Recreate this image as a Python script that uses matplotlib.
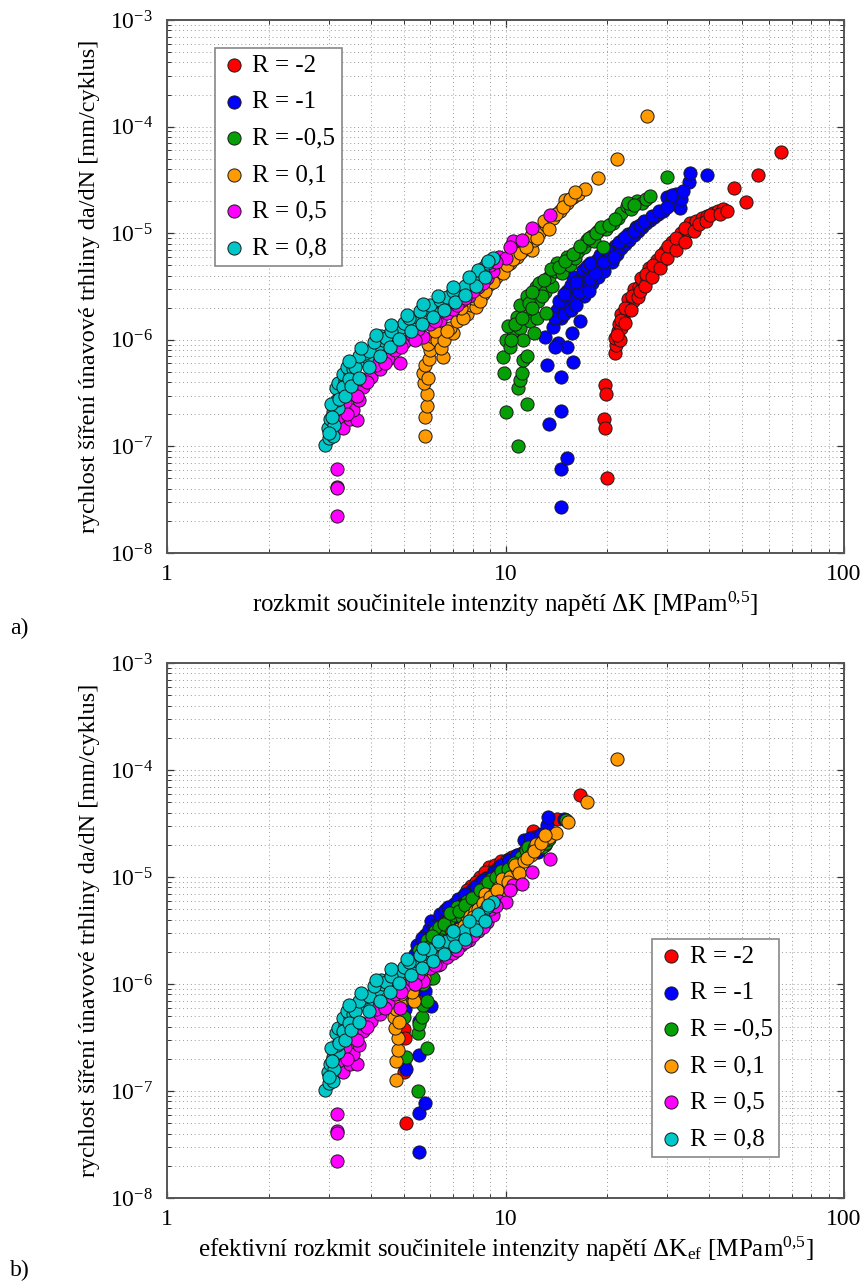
import numpy as np
import matplotlib
matplotlib.use('Agg')
import matplotlib.pyplot as plt
from matplotlib.ticker import LogLocator, FuncFormatter, NullFormatter

plt.rcParams['font.family'] = ['Liberation Serif', 'DejaVu Serif']
plt.rcParams['mathtext.fontset'] = 'custom'
plt.rcParams['mathtext.rm'] = 'Liberation Serif'
plt.rcParams['mathtext.it'] = 'Liberation Serif:italic'
plt.rcParams['mathtext.default'] = 'regular'

# ---------------- data: (delta K [MPa m^0.5], da/dN [mm/cycle]) ----------------
r_m2 = [(19.7, 3.8e-7), (19.8, 3.1e-7), (19.6, 1.8e-7), (19.7, 1.5e-7), (19.9, 5.0e-8),
        (21.0, 7.5e-7), (21.2, 9.0e-7), (21.0, 1.05e-6), (21.5, 1.2e-6), (21.8, 1.0e-6),
        (21.6, 1.4e-6), (22.0, 1.3e-6), (22.3, 1.6e-6), (22.0, 1.75e-6), (22.8, 1.9e-6),
        (23.3, 2.1e-6), (23.0, 2.4e-6), (23.8, 2.3e-6), (24.3, 2.7e-6), (24.0, 3.0e-6),
        (24.8, 3.1e-6), (25.5, 3.4e-6), (25.2, 3.8e-6), (26.2, 3.7e-6), (26.8, 4.2e-6),
        (26.5, 4.7e-6), (27.5, 4.6e-6), (28.2, 5.1e-6), (28.0, 5.6e-6), (29.0, 5.5e-6),
        (29.8, 6.1e-6), (29.5, 6.8e-6), (30.5, 6.9e-6), (31.5, 7.5e-6), (31.0, 8.2e-6),
        (32.5, 8.4e-6), (33.5, 9.2e-6), (33.0, 1.0e-5), (34.5, 1.05e-5), (35.5, 1.15e-5),
        (35.0, 1.25e-5), (36.5, 1.3e-5), (38.0, 1.4e-5), (39.5, 1.45e-5), (41.0, 1.55e-5),
        (42.5, 1.6e-5), (44.0, 1.68e-5), (47.3, 2.67e-5), (51.2, 1.98e-5), (55.8, 3.5e-5),
        (65.2, 5.8e-5),
        (21.3, 1.1e-6), (21.9, 1.55e-6), (22.6, 1.45e-6), (22.5, 2.0e-6), (23.5, 1.9e-6),
        (23.6, 2.6e-6), (24.6, 2.5e-6), (25.0, 2.9e-6), (25.8, 3.2e-6), (26.0, 4.1e-6),
        (27.0, 3.9e-6), (27.3, 5.0e-6), (28.6, 4.7e-6), (28.8, 6.2e-6), (30.0, 5.9e-6),
        (30.2, 7.6e-6), (31.8, 7.0e-6), (32.0, 9.0e-6), (33.8, 8.3e-6), (34.0, 1.12e-5),
        (36.0, 1.05e-5), (37.2, 1.22e-5), (39.0, 1.3e-5), (40.2, 1.48e-5), (43.0, 1.5e-5),
        (45.0, 1.62e-5)]

r_m1 = [(14.6, 2.7e-8), (14.6, 6.2e-8), (15.2, 7.8e-8), (13.4, 1.62e-7), (14.6, 2.16e-7),
        (13.3, 5.8e-7), (15.8, 6.2e-7), (14.6, 4.5e-7), (13.1, 1.07e-6), (14.3, 9.3e-7),
        (15.2, 8.6e-7), (14.0, 8.6e-7), (15.7, 1.15e-6), (16.6, 1.5e-6), (13.8, 1.33e-6),
        (14.2, 1.9e-6), (14.6, 1.6e-6), (15.0, 2.0e-6), (14.4, 2.3e-6), (15.4, 2.5e-6),
        (15.2, 2.9e-6), (16.0, 2.4e-6), (15.6, 3.3e-6), (16.3, 3.0e-6), (17.0, 2.6e-6),
        (15.8, 3.9e-6), (16.6, 3.6e-6), (17.2, 3.2e-6), (16.9, 4.5e-6), (17.6, 4.0e-6),
        (18.0, 3.4e-6), (17.4, 4.9e-6), (18.2, 4.6e-6), (18.8, 3.9e-6), (18.6, 5.6e-6),
        (19.2, 5.0e-6), (19.6, 4.4e-6), (19.0, 6.2e-6), (19.9, 5.8e-6), (20.6, 5.4e-6),
        (20.3, 6.6e-6), (21.3, 6.4e-6), (21.0, 7.6e-6), (21.9, 7.2e-6), (22.5, 8.0e-6),
        (22.2, 8.8e-6), (23.2, 8.6e-6), (23.0, 9.8e-6), (23.9, 9.6e-6), (24.6, 1.05e-5),
        (24.3, 1.15e-5), (25.3, 1.15e-5), (26.0, 1.25e-5), (26.8, 1.32e-5), (27.5, 1.42e-5),
        (28.2, 1.5e-5), (29.2, 1.62e-5), (29.9, 2.2e-5), (30.4, 1.85e-5), (31.3, 2.0e-5),
        (32.0, 2.35e-5), (32.8, 1.72e-5), (33.0, 2.1e-5), (34.9, 3.05e-5), (35.1, 3.65e-5),
        (39.3, 3.5e-5),
        (14.0, 1.6e-6), (14.9, 1.75e-6), (15.6, 1.9e-6), (16.2, 2.1e-6), (14.9, 2.7e-6),
        (16.5, 2.8e-6), (17.6, 2.9e-6), (16.2, 3.5e-6), (17.8, 3.7e-6), (18.4, 4.2e-6),
        (17.8, 5.2e-6), (19.4, 5.4e-6), (20.0, 6.9e-6), (20.9, 6.0e-6), (21.6, 8.2e-6),
        (22.6, 9.3e-6), (24.0, 1.05e-5), (25.0, 1.2e-5), (25.6, 1.3e-5), (27.0, 1.45e-5),
        (28.5, 1.6e-5), (30.0, 1.75e-5), (31.0, 2.3e-5), (33.5, 2.5e-5)]

r_m05 = [(10.9, 1.0e-7), (10.05, 2.1e-7), (11.6, 2.5e-7), (9.9, 4.9e-7), (10.9, 3.5e-7),
         (11.0, 4.2e-7), (11.2, 4.9e-7), (11.3, 6.4e-7), (9.8, 6.9e-7), (11.6, 7.0e-7),
         (10.0, 1.0e-6), (10.3, 8.5e-7), (10.5, 1.2e-6), (10.2, 1.35e-6), (10.8, 1.65e-6),
         (11.0, 1.3e-6), (11.3, 1.0e-6), (11.4, 1.9e-6), (11.0, 2.1e-6), (11.8, 1.5e-6),
         (12.1, 1.15e-6), (12.4, 1.6e-6), (11.6, 2.6e-6), (12.3, 3.1e-6), (12.6, 3.4e-6),
         (12.5, 2.3e-6), (13.2, 1.8e-6), (13.1, 2.8e-6), (13.7, 3.2e-6), (13.4, 3.9e-6),
         (14.2, 5.2e-6), (14.0, 4.4e-6), (14.7, 4.2e-6), (15.2, 6.0e-6), (15.5, 5.0e-6),
         (16.0, 5.8e-6), (16.4, 6.8e-6), (17.0, 7.4e-6), (17.4, 8.6e-6), (18.0, 9.5e-6),
         (18.3, 8.4e-6), (19.4, 7.5e-6), (18.8, 1.05e-5), (19.8, 1.1e-5), (20.8, 1.24e-5),
         (21.5, 1.4e-5), (22.0, 1.55e-5), (22.8, 1.8e-5), (23.5, 1.7e-5), (24.4, 2.0e-5),
         (25.3, 1.9e-5), (26.0, 2.1e-5), (26.7, 2.25e-5), (29.9, 3.4e-5),
         (10.4, 1.0e-6), (10.7, 1.4e-6), (11.2, 1.6e-6), (11.7, 2.2e-6), (12.0, 2.0e-6),
         (12.8, 2.6e-6), (12.0, 2.8e-6), (13.0, 3.6e-6), (13.6, 4.6e-6), (14.4, 4.8e-6),
         (15.0, 5.5e-6), (15.8, 6.4e-6), (16.6, 7.6e-6), (17.6, 9.0e-6), (18.5, 1.0e-5),
         (19.2, 1.15e-5), (20.2, 1.2e-5), (21.0, 1.35e-5), (23.0, 1.9e-5), (24.0, 1.85e-5)]

r_01 = [(5.8, 1.26e-7), (5.78, 1.9e-7), (5.85, 2.4e-7), (5.85, 3.1e-7), (5.75, 3.9e-7),
        (5.7, 4.9e-7), (5.9, 4.4e-7), (5.8, 5.8e-7), (5.95, 6.6e-7), (6.0, 8.0e-7),
        (5.9, 9.2e-7), (6.1, 1.07e-6), (6.26, 1.0e-6), (6.55, 6.9e-7), (6.45, 8.4e-7),
        (6.6, 1.0e-6), (7.0, 1.15e-6), (6.85, 1.3e-6), (7.2, 1.5e-6), (7.3, 1.9e-6),
        (7.68, 1.76e-6), (7.9, 2.1e-6), (8.2, 2.05e-6), (8.0, 2.45e-6), (8.6, 2.7e-6),
        (8.5, 3.1e-6), (8.9, 3.3e-6), (9.4, 3.9e-6), (9.6, 4.3e-6), (9.9, 4.8e-6),
        (10.3, 5.3e-6), (10.8, 6.0e-6), (10.6, 6.9e-6), (11.3, 7.0e-6), (12.0, 7.0e-6),
        (11.6, 7.9e-6), (12.1, 8.6e-6), (11.9, 9.5e-6), (12.6, 1.0e-5), (13.2, 1.2e-5),
        (13.0, 1.3e-5), (13.8, 1.4e-5), (14.5, 1.62e-5), (15.2, 1.9e-5), (15.0, 2.05e-5),
        (15.8, 2.2e-5), (16.4, 2.35e-5), (17.2, 2.58e-5), (18.7, 3.3e-5), (21.3, 5.0e-5),
        (26.1, 1.26e-4),
        (6.2, 1.2e-6), (6.7, 1.2e-6), (7.5, 1.6e-6), (7.4, 2.0e-6), (8.4, 2.3e-6),
        (8.7, 2.9e-6), (9.2, 3.5e-6), (9.8, 4.2e-6), (10.1, 5.0e-6), (10.5, 5.7e-6),
        (11.0, 6.5e-6), (11.5, 7.5e-6), (12.4, 9.0e-6), (13.4, 1.1e-5), (14.1, 1.5e-5),
        (14.8, 1.75e-5), (15.5, 2.1e-5), (16.0, 2.45e-5)]

r_05 = [(3.18, 2.24e-8), (3.18, 4.2e-8), (3.17, 4.05e-8), (3.17, 6.1e-8),
        (3.3, 1.5e-7), (3.47, 1.8e-7), (3.63, 1.77e-7), (3.55, 2.2e-7), (3.7, 2.7e-7),
        (3.6, 3.2e-7), (3.8, 3.6e-7), (3.2, 1.9e-7), (3.35, 2.6e-7), (3.5, 3.4e-7),
        (3.75, 4.3e-7), (4.0, 4.5e-7), (4.26, 5.3e-7), (4.5, 6.6e-7), (4.88, 6.0e-7),
        (4.7, 8.0e-7), (5.0, 9.5e-7), (5.3, 1.1e-6), (5.7, 1.07e-6), (5.5, 1.25e-6),
        (6.0, 1.4e-6), (6.4, 1.55e-6), (6.7, 1.8e-6), (7.0, 1.95e-6), (7.4, 2.3e-6),
        (7.8, 2.6e-6), (8.3, 3.1e-6), (8.8, 3.8e-6), (9.2, 4.4e-6), (9.0, 5.0e-6),
        (9.6, 6.0e-6), (10.0, 5.8e-6), (10.5, 8.4e-6), (11.2, 8.6e-6), (12.0, 1.12e-5),
        (13.5, 1.48e-5),
        (3.4, 2.0e-7), (3.65, 3.0e-7), (3.9, 4.0e-7), (4.15, 5.8e-7), (4.4, 6.0e-7),
        (4.9, 8.5e-7), (5.4, 1.0e-6), (6.2, 1.5e-6), (7.2, 2.1e-6), (7.6, 2.45e-6),
        (8.0, 2.9e-6), (8.6, 3.4e-6), (9.4, 5.4e-6), (10.3, 7.5e-6)]

r_08 = [(2.93, 1.03e-7), (3.0, 1.2e-7), (3.1, 1.25e-7), (2.98, 1.5e-7), (3.03, 1.8e-7),
        (3.12, 1.6e-7), (3.1, 2.1e-7), (3.2, 2.3e-7), (3.17, 2.7e-7), (3.06, 2.5e-7),
        (3.25, 3.2e-7), (3.15, 3.5e-7), (3.2, 3.9e-7), (3.35, 4.1e-7), (3.3, 4.8e-7),
        (3.47, 4.9e-7), (3.4, 5.6e-7), (3.54, 5.3e-7), (3.6, 6.1e-7), (3.75, 6.5e-7),
        (3.9, 6.9e-7), (3.85, 7.6e-7), (4.05, 8.0e-7), (4.2, 9.0e-7), (4.36, 1.0e-6),
        (4.3, 1.08e-6), (4.55, 1.12e-6), (4.75, 1.22e-6), (4.9, 1.32e-6), (5.1, 1.42e-6),
        (5.3, 1.55e-6), (5.47, 1.65e-6), (5.7, 1.78e-6), (5.95, 1.92e-6), (6.2, 2.05e-6),
        (6.5, 2.2e-6), (6.85, 2.4e-6), (7.1, 2.65e-6), (7.4, 2.9e-6), (7.8, 3.3e-6),
        (8.1, 3.7e-6), (8.4, 4.2e-6), (8.6, 4.7e-6), (8.8, 5.2e-6), (9.2, 5.8e-6),
        (3.0, 1.35e-7), (3.08, 1.9e-7), (3.22, 2.8e-7), (3.3, 3.6e-7), (3.45, 4.3e-7),
        (3.6, 5.6e-7), (3.7, 7.0e-7), (3.95, 7.8e-7), (4.1, 9.5e-7), (4.45, 1.05e-6),
        (4.6, 1.2e-6), (5.0, 1.45e-6), (5.2, 1.6e-6), (5.6, 1.85e-6), (6.0, 2.1e-6),
        (6.4, 2.35e-6), (6.7, 2.5e-6), (7.0, 2.85e-6), (7.6, 3.2e-6), (8.0, 3.9e-6),
        (8.3, 4.5e-6), (8.9, 5.5e-6),
        (3.36, 3.0e-7), (3.5, 3.7e-7), (3.68, 4.4e-7), (3.95, 5.6e-7), (4.25, 7.0e-7),
        (4.55, 8.5e-7), (4.85, 1.02e-6), (5.25, 1.22e-6), (5.65, 1.42e-6), (6.1, 1.65e-6),
        (6.6, 1.9e-6), (7.1, 2.25e-6), (7.6, 2.65e-6), (8.2, 3.2e-6), (8.7, 3.9e-6),
        (3.45, 6.3e-7), (3.75, 8.3e-7), (4.15, 1.1e-6), (4.6, 1.38e-6), (5.1, 1.72e-6),
        (5.7, 2.15e-6), (6.3, 2.55e-6), (7.0, 3.15e-6), (7.8, 3.9e-6)]

series = [r_m2, r_m1, r_m05, r_01, r_05, r_08]
labels = ['R = -2', 'R = -1', 'R = -0,5', 'R = 0,1', 'R = 0,5', 'R = 0,8']
colors = ['#ff0000', '#0000ff', '#05a005', '#ff9a00', '#ff00ff', '#00c8c8']
# effective fraction of the range (dK_ef = U * dK), read from panel b)
closure_U = [0.255, 0.38, 0.505, 0.82, 1.0, 1.0]

W, H = 865, 1282
fig = plt.figure(figsize=(W / 100, H / 100), dpi=100)
ax1 = fig.add_axes([167 / W, (H - 553) / H, 677 / W, 533 / H])
ax2 = fig.add_axes([167 / W, (H - 1198) / H, 677 / W, 535 / H])


def style(ax):
    ax.set_xscale('log')
    ax.set_yscale('log')
    ax.set_xlim(1, 100)
    ax.set_ylim(1e-8, 1e-3)
    ax.xaxis.set_major_locator(LogLocator(base=10, numticks=10))
    ax.xaxis.set_minor_locator(LogLocator(base=10, subs=np.arange(2, 10), numticks=10))
    ax.yaxis.set_major_locator(LogLocator(base=10, numticks=10))
    ax.yaxis.set_minor_locator(LogLocator(base=10, subs=np.arange(2, 10), numticks=10))
    ax.xaxis.set_minor_formatter(NullFormatter())
    ax.yaxis.set_minor_formatter(NullFormatter())
    ax.xaxis.set_major_formatter(FuncFormatter(lambda v, p: f'{v:g}'))
    ax.yaxis.set_major_formatter(
        FuncFormatter(lambda v, p: r'$10^{%d}$' % int(round(np.log10(v)))))
    ax.set_axisbelow(True)
    ax.grid(True, which='both', linestyle=(0, (1, 3)), color='0.6', linewidth=0.7)
    ax.tick_params(which='both', direction='in', top=True, right=True,
                   labelsize=17, color='#333333')
    ax.tick_params(axis='x', which='major', pad=8)
    ax.tick_params(axis='y', which='major', pad=10)
    ax.tick_params(which='major', length=5, width=0.9)
    ax.tick_params(which='minor', length=3, width=0.7)
    for s in ax.spines.values():
        s.set_color('#555555')
        s.set_linewidth(1.4)


for ax in (ax1, ax2):
    style(ax)

for data, lab, col, u in zip(series, labels, colors, closure_U):
    dk = np.array([p[0] for p in data])
    v = np.array([p[1] for p in data])
    ax1.scatter(dk, v, s=90, c=col, edgecolors='#1a1a1a', linewidths=0.7, label=lab, zorder=3)
    ax2.scatter(dk * u, v, s=90, c=col, edgecolors='#1a1a1a', linewidths=0.7, label=lab, zorder=3)

leg_kw = dict(fontsize=18, frameon=True, fancybox=False, edgecolor='#888888',
              framealpha=1, labelspacing=0.56, handletextpad=0.25, handlelength=1.0,
              borderpad=0.25, borderaxespad=0, scatterpoints=1)
l1 = ax1.legend(loc='upper left', bbox_to_anchor=((215 - 167) / 677, 1 - (48 - 20) / 533), **leg_kw)
l2 = ax2.legend(loc='upper left', bbox_to_anchor=((652 - 167) / 677, 1 - (939 - 663) / 535), **leg_kw)
for l in (l1, l2):
    l.get_frame().set_linewidth(1.2)

ylab = 'rychlost šíření únavové trhliny da/dN [mm/cyklus]'
ax1.set_ylabel(ylab, fontsize=17.5, labelpad=7)
ax2.set_ylabel(ylab, fontsize=17.5, labelpad=7)
ax1.set_xlabel(r'rozkmit součinitele intenzity napětí ΔK [MPam$^{0{,}5}$]', fontsize=18, labelpad=3)
ax2.set_xlabel(r'efektivní rozkmit součinitele intenzity napětí ΔK$_{ef}$ [MPam$^{0{,}5}$]',
               fontsize=18, labelpad=3)

fig.text(10 / W, 1 - 628 / H, 'a)', fontsize=17, va='center', ha='left')
fig.text(10 / W, 1 - 1270 / H, 'b)', fontsize=17, va='center', ha='left')

fig.savefig('out.png', dpi=100, facecolor='white')
